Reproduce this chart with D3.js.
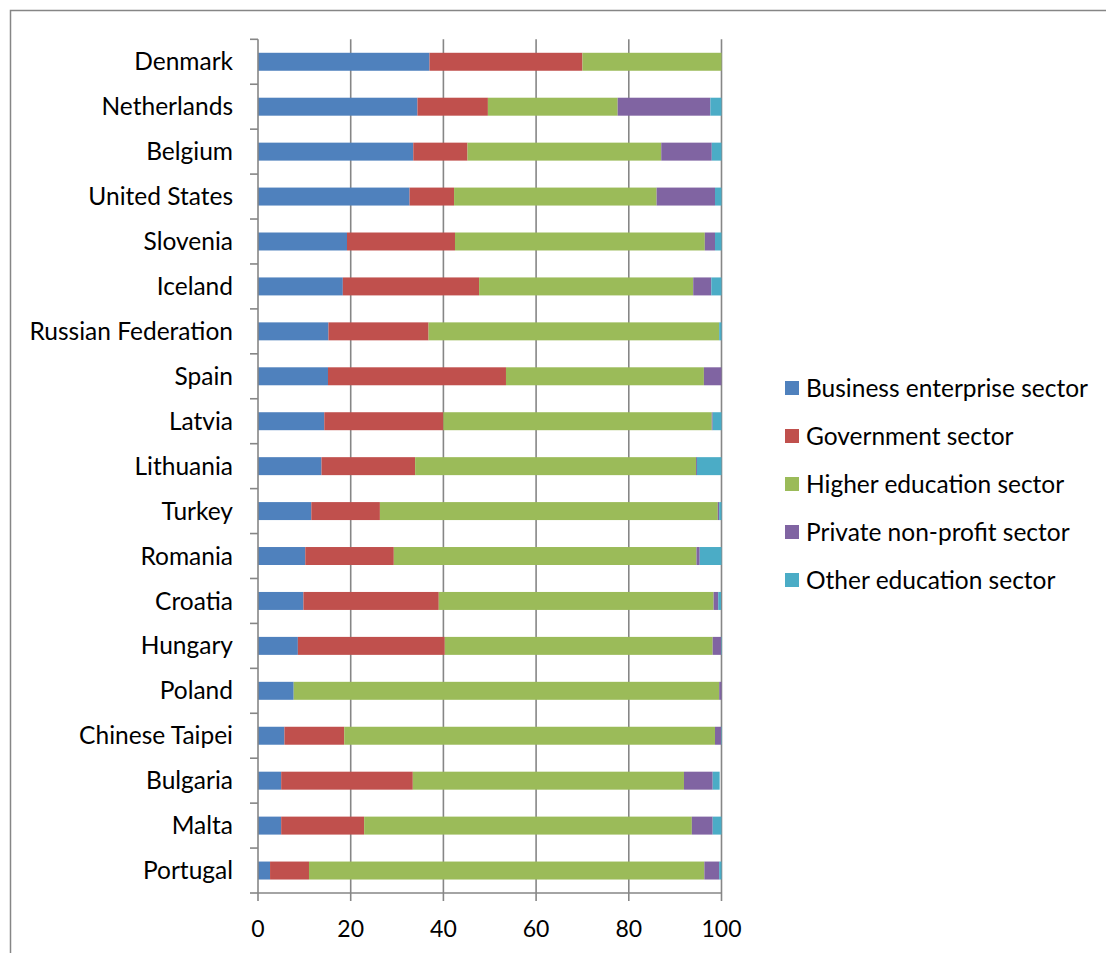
<!DOCTYPE html>
<html lang="en">
<head>
    <meta charset="UTF-8">
    <title>R&amp;D personnel by sector</title>
    <script src="https://d3js.org/d3.v7.min.js"></script>
    <style>
        body { margin: 0; background: #fff; }
        svg { display: block; font-family: 'Lato', sans-serif; }
    </style>
</head>
<body>
<script>
    // Share of researchers by sector of employment (%)
    var countries = ['Denmark', 'Netherlands', 'Belgium', 'United States', 'Slovenia', 'Iceland',
        'Russian Federation', 'Spain', 'Latvia', 'Lithuania', 'Turkey', 'Romania', 'Croatia',
        'Hungary', 'Poland', 'Chinese Taipei', 'Bulgaria', 'Malta', 'Portugal'];
    var sectors = ['Business enterprise sector', 'Government sector', 'Higher education sector',
        'Private non-profit sector', 'Other education sector'];

    var business   = [37.0, 34.4, 33.5, 32.7, 19.2, 18.3, 15.2, 15.1, 14.3, 13.7, 11.5, 10.2, 9.8, 8.6, 7.7, 5.7, 5.0, 5.0, 2.6];
    var government = [33.0, 15.2, 11.7, 9.6, 23.3, 29.4, 21.6, 38.4, 25.7, 20.2, 14.8, 19.1, 29.2, 31.7, 0.0, 12.9, 28.4, 17.9, 8.4];
    var higherEd   = [30.0, 28.0, 41.8, 43.7, 53.9, 46.2, 62.7, 42.7, 57.9, 60.6, 72.9, 65.3, 59.3, 57.8, 91.8, 80.0, 58.5, 70.7, 85.3];
    var privateNP  = [0.0, 20.0, 10.9, 12.6, 2.2, 3.9, 0.0, 3.8, 0.2, 0.2, 0.3, 0.7, 1.0, 1.8, 0.5, 1.3, 6.2, 4.5, 3.2];
    var otherEd    = [0.0, 2.4, 2.1, 1.4, 1.4, 2.2, 0.5, 0.0, 1.9, 5.3, 0.5, 4.7, 0.6, 0.1, 0.0, 0.1, 1.5, 1.9, 0.5];

    var xTicks = [0, 20, 40, 60, 80, 100];
    var colors = ['#4F81BD', '#C0504D', '#9BBB59', '#8064A2', '#4BACC6'];

    var width = 1106, height = 953;
    var axisColor = '#868686';

    // build rows for the stack
    var rows = countries.map(function(c, i) {
        var r = { country: c };
        r[sectors[0]] = business[i];
        r[sectors[1]] = government[i];
        r[sectors[2]] = higherEd[i];
        r[sectors[3]] = privateNP[i];
        r[sectors[4]] = otherEd[i];
        return r;
    });

    var svg = d3.select('body').append('svg')
        .attr('width', width)
        .attr('height', height);

    // outer chart frame (runs off the right and bottom edges)
    svg.append('rect')
        .attr('x', 10.5).attr('y', 10.5)
        .attr('width', 1200).attr('height', 1200)
        .attr('fill', 'none')
        .attr('stroke', axisColor)
        .attr('stroke-width', 1.5);

    var x = d3.scaleLinear().domain([0, 100]).range([258, 721.5]);
    var y = d3.scaleBand().domain(countries).range([39.3, 893])
        .paddingInner(0.6).paddingOuter(0.3);

    var color = d3.scaleOrdinal().domain(sectors).range(colors);

    // vertical gridlines
    svg.append('g').selectAll('line')
        .data(xTicks.filter(function(d) { return d > 0; }))
        .enter().append('line')
        .attr('x1', d => x(d)).attr('x2', d => x(d))
        .attr('y1', 39.3).attr('y2', 893)
        .attr('stroke', axisColor)
        .attr('stroke-width', 1.6);

    // stacked bars
    var series = d3.stack().keys(sectors)(rows);

    svg.append('g').selectAll('g')
        .data(series)
        .enter().append('g')
        .attr('fill', d => color(d.key))
        .selectAll('rect')
        .data(d => d)
        .enter().append('rect')
        .attr('x', d => x(d[0]))
        .attr('width', d => Math.max(0, x(d[1]) - x(d[0])))
        .attr('y', d => y(d.data.country))
        .attr('height', y.bandwidth());

    // category axis
    var yAxis = svg.append('g');
    yAxis.append('line')
        .attr('x1', 258).attr('x2', 258)
        .attr('y1', 39.3).attr('y2', 893)
        .attr('stroke', axisColor).attr('stroke-width', 1.6);
    var step = y.step();
    var edges = d3.range(countries.length + 1).map(function(i) { return 39.3 + i * step; });
    yAxis.selectAll('.tick')
        .data(edges)
        .enter().append('line')
        .attr('x1', 250).attr('x2', 258)
        .attr('y1', d => d).attr('y2', d => d)
        .attr('stroke', axisColor).attr('stroke-width', 1.6);
    yAxis.selectAll('text')
        .data(countries)
        .enter().append('text')
        .attr('x', 233)
        .attr('y', d => y(d) + y.bandwidth() / 2)
        .attr('dy', '0.35em')
        .attr('text-anchor', 'end')
        .style('font-size', '24.5px')
        .attr('fill', '#000')
        .text(d => d);

    // value axis
    var xAxis = svg.append('g');
    xAxis.append('line')
        .attr('x1', 258).attr('x2', 721.5)
        .attr('y1', 893).attr('y2', 893)
        .attr('stroke', axisColor).attr('stroke-width', 1.6);
    xAxis.selectAll('.tick')
        .data(xTicks)
        .enter().append('line')
        .attr('x1', d => x(d)).attr('x2', d => x(d))
        .attr('y1', 893).attr('y2', 901)
        .attr('stroke', axisColor).attr('stroke-width', 1.6);
    xAxis.selectAll('text')
        .data(xTicks)
        .enter().append('text')
        .attr('x', d => x(d))
        .attr('y', 937)
        .attr('text-anchor', 'middle')
        .style('font-size', '23px')
        .attr('fill', '#000')
        .text(d => d);

    // legend
    var legend = svg.append('g').selectAll('g')
        .data(sectors)
        .enter().append('g')
        .attr('transform', function(d, i) { return 'translate(785,' + (388 + i * 48) + ')'; });

    legend.append('rect')
        .attr('x', 0).attr('y', -7)
        .attr('width', 14).attr('height', 14)
        .attr('fill', d => color(d));

    legend.append('text')
        .attr('x', 21)
        .attr('y', 0)
        .attr('dy', '0.35em')
        .style('font-size', '24.5px')
        .attr('fill', '#000')
        .text(d => d);
</script>
</body>
</html>
